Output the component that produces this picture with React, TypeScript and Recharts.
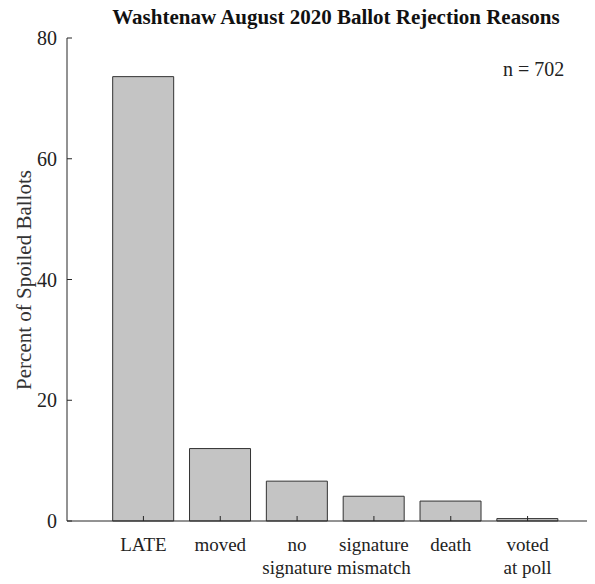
import React from 'react';
import {BarChart, Bar, XAxis, YAxis} from 'recharts';

const categories = ['LATE', 'moved', 'no\nsignature', 'signature\nmismatch', 'death', 'voted\nat poll'];
const percents = [73.6, 12.0, 6.6, 4.1, 3.3, 0.4];
const yTicks = [0, 20, 40, 60, 80];

const data = categories.map((name, i) => ({name, pct: percents[i]}));

const FONT = '"Liberation Serif", "DejaVu Serif", serif';
const AXIS = '#262626';
const txt = {fontFamily: FONT, fontSize: 20};

function BottomTick({x, y, payload}: any) {
	const lines = String(payload.value).split('\n');
	return (
		<g>
			<line x1={x} x2={x} y1={y} y2={y - 5} stroke={AXIS} />
			<text x={x} y={y + 30} textAnchor="middle" style={{fontFamily: FONT, fontSize: 19}} fill="#222">
				{lines.map((l, i) => (
					<tspan key={i} x={x} dy={i === 0 ? 0 : 23}>
						{l}
					</tspan>
				))}
			</text>
		</g>
	);
}

function TopTick({x, y}: any) {
	return <line x1={x} x2={x} y1={y} y2={y + 5} stroke={AXIS} />;
}

function LeftTick({x, y, payload}: any) {
	return (
		<g>
			<line x1={x} x2={x + 5} y1={y} y2={y} stroke={AXIS} />
			<text x={x - 10} y={y} dy="0.35em" textAnchor="end" style={txt} fill="#222">
				{payload.value}
			</text>
		</g>
	);
}

function RightTick({x, y}: any) {
	return <line x1={x} x2={x - 5} y1={y} y2={y} stroke={AXIS} />;
}

export default function App() {
	return (
		<div style={{position: 'relative', width: 620, height: 576, fontFamily: FONT}}>
			<div
				style={{
					position: 'absolute',
					top: -1,
					left: 28,
					width: 600,
					textAlign: 'center',
					fontSize: 21,
					lineHeight: '21px',
					fontWeight: 'bold',
					color: '#111',
					whiteSpace: 'nowrap'
				}}
			>
				Washtenaw August 2020 Ballot Rejection Reasons
			</div>
			<BarChart
				width={620}
				height={576}
				data={data}
				margin={{top: 30, right: 24, bottom: 0, left: 0}}
				barCategoryGap="10%"
			>
				<XAxis
					dataKey="name"
					height={63}
					padding={{left: 38, right: 38}}
					interval={0}
					tickSize={0}
					tickMargin={0}
					tickLine={false}
					axisLine={{stroke: AXIS}}
					tick={<BottomTick />}
				/>
				<XAxis
					xAxisId="top"
					orientation="top"
					dataKey="name"
					height={0}
					padding={{left: 38, right: 38}}
					interval={0}
					tickSize={0}
					tickMargin={0}
					tickLine={false}
					axisLine={{stroke: AXIS}}
					tick={<TopTick />}
				/>
				<YAxis
					width={59}
					domain={[0, 80]}
					ticks={yTicks}
					tickSize={0}
					tickMargin={0}
					tickLine={false}
					axisLine={{stroke: AXIS}}
					tick={<LeftTick />}
				/>
				<YAxis
					yAxisId="right"
					orientation="right"
					width={0}
					domain={[0, 80]}
					ticks={yTicks}
					tickSize={0}
					tickMargin={0}
					tickLine={false}
					axisLine={{stroke: AXIS}}
					tick={<RightTick />}
				/>
				<Bar dataKey="pct" fill="#c4c4c4" stroke="#333" strokeWidth={1} isAnimationActive={false} />
				<text x={495} y={68} style={txt} fill="#222">
					n = 702
				</text>
				<text
					x={16}
					y={272}
					transform="rotate(-90 16 272)"
					textAnchor="middle"
					dy="0.35em"
					style={{fontFamily: FONT, fontSize: 21}}
					fill="#333"
				>
					Percent of Spoiled Ballots
				</text>
			</BarChart>
		</div>
	);
}
